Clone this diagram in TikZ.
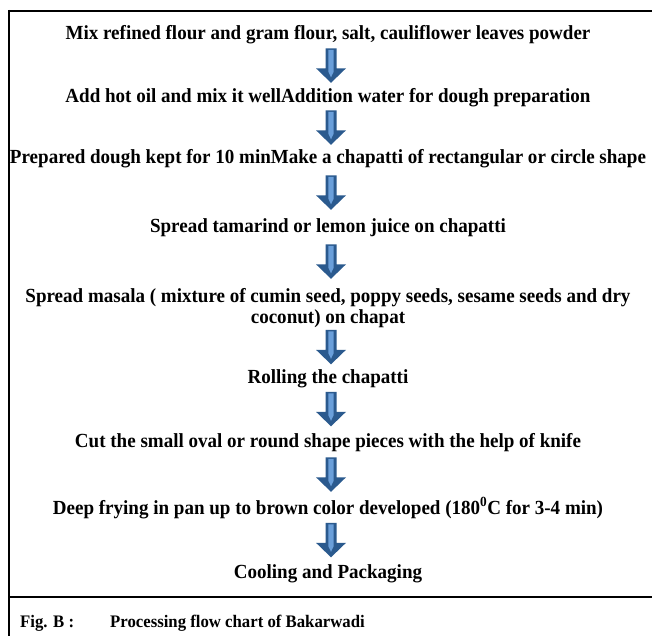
\documentclass[tikz,border=0pt]{standalone}
\usepackage{fontspec}
\usepackage{graphicx}
\setmainfont{Liberation Serif}
\usetikzlibrary{calc}
\definecolor{arrowdark}{HTML}{2B5A8E}
\definecolor{arrowlight}{HTML}{6A9FDA}
\newsavebox\measbox
\newlength\measlen
\newcommand\fitx[1]{\scalebox{\sx}[1]{#1}}
\newcommand\flowarrow[2]{%
  \coordinate (m#1#2) at ($(#1.south)!0.5!(#2.north)$);
  \begin{scope}[shift={(m#1#2)}, xshift=3pt, yshift=2pt]
    \fill[arrowdark] (-5.5,-17) -- (5.5,-17) -- (5.5,3) -- (15,3) -- (0,17.5) -- (-15,3) -- (-5.5,3) -- cycle;
    \fill[arrowlight] (-2.6,-15.5) -- (2.6,-15.5) -- (2.6,6.5) -- (0,12) -- (-2.6,6.5) -- cycle;
  \end{scope}}
\begin{document}
\sbox\measbox{\bfseries\fontsize{20}{21}\selectfont Prepared dough kept for 10 minMake a chapatti of rectangular or circle shape}%
\setlength\measlen{\wd\measbox}%
\pgfmathsetmacro\sx{636/\measlen}%
\begin{tikzpicture}[x=1pt,y=-1pt,
  framerule/.style={line width=2.2pt, black},
  steptext/.style={font=\bfseries\fontsize{20}{21}\selectfont, anchor=base, inner sep=0pt, text height=14.7pt, text depth=6.3pt},
  multitext/.style={font=\bfseries\fontsize{20}{21}\selectfont, anchor=base, inner sep=0pt},
  captext/.style={font=\bfseries\fontsize{17.6}{20}\selectfont, anchor=base west, inner sep=0pt}]
\useasboundingbox (0,0) rectangle (652,636);
\fill[white] (0,0) rectangle (652,636);
% frame
\draw[framerule] (9,11) -- (652,11);
\draw[framerule] (9,9.9) -- (9,636);
\draw[framerule] (9,597) -- (652,597);
% steps
\node[steptext] (s1) at (328,40) {\fitx{Mix refined flour and gram flour, salt, cauliflower leaves powder}};
\node[steptext] (s2) at (328,103) {\fitx{Add hot oil and mix it wellAddition water for dough preparation}};
\node[steptext] (s3) at (328,164) {\fitx{Prepared dough kept for 10 minMake a chapatti of rectangular or circle shape}};
\node[steptext] (s4) at (328,233) {\fitx{Spread tamarind or lemon juice on chapatti}};
\node[multitext] (s5) at (328,302) {\fitx{\begin{tabular}[t]{@{}c@{}}Spread masala ( mixture of cumin seed, poppy seeds, sesame seeds and dry\\coconut) on chapat\end{tabular}}};
\node[steptext] (s6) at (328,383) {\fitx{Rolling the chapatti}};
\node[steptext] (s7) at (328,447) {\fitx{Cut the small oval or round shape pieces with the help of knife}};
\node[steptext] (s8) at (328,514) {\fitx{Deep frying in pan up to brown color developed (180\textsuperscript{0}C for 3-4 min)}};
\node[steptext] (s9) at (328,578) {\fitx{Cooling and Packaging}};
% arrows
\flowarrow{s1}{s2}
\flowarrow{s2}{s3}
\flowarrow{s3}{s4}
\flowarrow{s4}{s5}
\flowarrow{s5}{s6}
\flowarrow{s6}{s7}
\flowarrow{s7}{s8}
\flowarrow{s8}{s9}
% caption
\node[captext] (c1) at (20,627) {\fitx{Fig. B :}};
\node[captext] (c2) at (110,627) {\fitx{Processing flow chart of Bakarwadi}};
\end{tikzpicture}
\end{document}
